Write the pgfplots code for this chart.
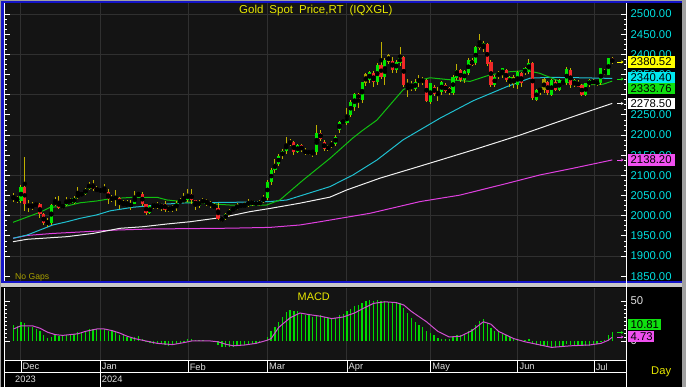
\documentclass[border=0pt]{standalone}
\usepackage{pgfplots}
\pgfplotsset{compat=1.18}
\usepackage{pgfplotstable}
\usepackage{fontspec}
\setmainfont{Liberation Sans}
\usetikzlibrary{arrows.meta}

\definecolor{plotbg}{HTML}{141414}
\definecolor{gridc}{HTML}{303030}
\definecolor{tickcyan}{HTML}{00E0E0}
\definecolor{upg}{HTML}{00E400}
\definecolor{dnr}{HTML}{F02828}
\definecolor{wick}{HTML}{C0B000}
\definecolor{olivebody}{HTML}{A89C00}
\definecolor{mamag}{HTML}{E040E0}
\definecolor{mawhite}{HTML}{F0F0F0}
\definecolor{macyan}{HTML}{20C0D0}
\definecolor{magreen}{HTML}{10C010}
\definecolor{ttl}{HTML}{E8E800}
\definecolor{frameblue}{HTML}{1414C8}
\definecolor{framegray}{HTML}{A0A0A0}
\definecolor{macdg}{HTML}{00DC00}
\definecolor{sig}{HTML}{D050D0}
\definecolor{lbl}{HTML}{E0E0E0}
\definecolor{boxyellow}{HTML}{FFFF00}
\definecolor{boxcyan}{HTML}{00E8F0}
\definecolor{boxgreen}{HTML}{10E010}
\definecolor{boxmag}{HTML}{F050F0}
\definecolor{nogap}{HTML}{A8A000}

\pgfplotstableread{
i o h l c t
-2 2041 2056 2035 2047 1
-1 2047 2049 2031 2036 -1
0 2036 2075 2031 2072 1
1 2072 2146 2012 2029 -1
2 2029 2040 2010 2019 -1
3 2019 2035 2015 2026 1
4 2026 2035 2021 2028 1
5 2028 2032 1995 2004 -1
6 2004 2006 1976 1981 -1
7 1981 1995 1973 1983 0
8 1983 2030 1976 2027 1
9 2027 2047 2025 2036 1
10 2036 2048 2016 2019 -1
11 2019 2030 2017 2027 1
12 2027 2047 2023 2040 1
13 2040 2044 2030 2031 -1
14 2031 2048 2028 2045 1
15 2045 2071 2042 2053 1
16 2053 2056 2051 2053 0
17 2053 2069 2052 2067 1
18 2067 2084 2064 2078 1
19 2078 2088 2062 2065 -1
20 2065 2073 2058 2063 -1
21 2063 2065 2060 2062 0
22 2062 2079 2056 2059 -1
23 2059 2065 2030 2041 -1
24 2041 2051 2034 2043 1
25 2043 2064 2024 2045 1
26 2045 2047 2016 2027 -1
27 2027 2038 2025 2030 1
28 2030 2040 2021 2024 -1
29 2024 2040 2013 2029 1
30 2029 2062 2028 2049 1
31 2049 2060 2048 2055 1
32 2055 2058 2023 2028 -1
33 2028 2030 2002 2006 -1
34 2006 2026 2005 2023 1
35 2023 2032 2016 2029 1
36 2029 2033 2016 2021 -1
37 2021 2032 2011 2029 1
38 2029 2037 2010 2014 -1
39 2014 2023 2010 2021 1
40 2021 2026 2009 2018 -1
41 2018 2036 2011 2032 1
42 2032 2043 2029 2037 1
43 2037 2057 2031 2039 0
44 2039 2065 2034 2054 1
45 2054 2066 2030 2039 -1
46 2039 2040 2015 2025 -1
47 2025 2040 2020 2035 1
48 2035 2043 2030 2035 0
49 2035 2041 2023 2034 -1
50 2034 2037 2020 2024 -1
51 2024 2032 2016 2020 -1
52 2020 2031 1990 1993 -1
53 1993 1996 1984 1992 -1
54 1992 2006 1989 2004 1
55 2004 2016 1999 2013 1
56 2013 2022 2011 2017 1
57 2017 2031 2014 2024 1
58 2024 2030 2020 2025 0
59 2025 2034 2020 2024 0
60 2024 2041 2022 2035 1
61 2035 2038 2025 2031 -1
62 2031 2037 2024 2029 0
63 2029 2038 2024 2034 1
64 2034 2052 2032 2044 1
65 2044 2088 2040 2083 1
66 2083 2119 2077 2114 1
67 2114 2141 2106 2128 1
68 2128 2152 2124 2148 1
69 2148 2165 2141 2160 1
70 2160 2195 2153 2179 1
71 2179 2189 2174 2182 1
72 2182 2186 2150 2158 -1
73 2158 2177 2155 2175 1
74 2175 2178 2157 2162 -1
75 2162 2167 2150 2155 -1
76 2155 2164 2150 2160 1
77 2160 2163 2146 2157 0
78 2157 2225 2150 2205 1
79 2205 2212 2185 2190 -1
80 2183 2187 2160 2165 -1
81 2165 2176 2160 2172 1
82 2172 2185 2168 2179 1
83 2179 2200 2173 2196 1
84 2212 2236 2205 2233 1
85 2233 2235 2231 2234 0
86 2229 2267 2225 2250 1
87 2250 2288 2245 2283 1
88 2270 2305 2260 2301 1
89 2302 2305 2266 2289 -1
90 2287 2332 2280 2331 1
91 2329 2354 2322 2352 0
92 2336 2360 2330 2357 1
93 2353 2358 2320 2332 -1
94 2332 2378 2325 2374 1
95 2374 2431 2340 2345 -1
96 2345 2390 2324 2386 1
97 2382 2402 2375 2398 0
98 2384 2394 2355 2361 -1
99 2361 2386 2355 2382 1
100 2378 2419 2370 2393 1
101 2393 2395 2320 2324 -1
102 2327 2338 2295 2322 0
103 2324 2335 2310 2313 -1
104 2313 2340 2308 2332 1
105 2332 2348 2320 2340 0
106 2338 2345 2325 2330 0
107 2336 2340 2283 2285 -1
108 2283 2330 2277 2328 1
109 2318 2325 2298 2302 -1
110 2302 2318 2285 2307 0
111 2307 2335 2300 2332 1
112 2324 2328 2305 2310 -1
113 2316 2320 2300 2303 -1
114 2305 2350 2300 2345 1
115 2341 2375 2336 2361 1
116 2361 2364 2332 2336 -1
117 2336 2362 2330 2358 1
118 2353 2390 2348 2386 1
119 2386 2390 2370 2374 -1
120 2378 2422 2373 2419 1
121 2417 2450 2410 2427 0
122 2417 2432 2405 2427 1
123 2425 2428 2372 2375 -1
124 2382 2385 2318 2324 -1
125 2324 2348 2320 2345 1
126 2345 2358 2340 2357 1
127 2349 2365 2342 2365 1
128 2361 2363 2332 2336 -1
129 2328 2347 2318 2345 1
130 2345 2350 2316 2327 0
131 2324 2360 2315 2357 1
132 2353 2356 2320 2328 -1
133 2353 2368 2350 2365 1
134 2357 2388 2352 2378 1
135 2378 2380 2287 2291 -1
136 2287 2315 2285 2312 1
137 2307 2320 2300 2320 1
138 2312 2342 2305 2338 0
139 2332 2335 2300 2303 -1
140 2299 2338 2297 2336 1
141 2332 2336 2310 2312 -1
142 2312 2338 2308 2336 1
143 2328 2335 2325 2332 0
144 2328 2368 2325 2363 1
145 2361 2366 2316 2324 -1
146 2324 2338 2318 2336 1
147 2332 2336 2318 2320 -1
148 2324 2327 2296 2299 -1
149 2299 2330 2296 2328 1
150 2324 2338 2320 2336 1
151 2326 2340 2323 2336 1
152 2334 2336 2322 2328 -1
153 2328 2366 2325 2365 1
154 2351 2364 2348 2361 1
155 2349 2392 2348 2390 1
156 2390 2393 2376 2380.52 -1
}\candles

\pgfplotstableread{
i m
-2 20
-1 19
0 24
1 22
2 18
3 17
4 15
5 12
6 7
7 4
8 5
9 7
10 6
11 6
12 8
13 7
14 9
15 11
16 11
17 13
18 15
19 15
20 15
21 15
22 15
23 13
24 12
25 11
26 8
27 7
28 5
29 4
30 5
31 6
32 3
33 -1
34 -3
35 -4
36 -4
37 -4
38 -5
39 -6
40 -5
41 -4
42 -3
43 -1
44 2
45 2
46 1
47 1
48 1
49 0
50 0
51 -1
52 -5
53 -7
54 -8
55 -8
56 -7
57 -6
58 -5
59 -5
60 -4
61 -4
62 -3
63 -2
64 0
65 5
66 12
67 18
68 24
69 30
70 36
71 39
72 38
73 37
74 35
75 33
76 32
77 30
78 32
79 32
80 30
81 29
82 28
83 29
84 32
85 34
86 37
87 40
88 44
89 45
90 48
91 50
92 51
93 50
94 51
95 50
96 50
97 49
98 48
99 47
100 47
101 41
102 35
103 29
104 24
105 20
106 17
107 12
108 10
109 7
110 4
111 3
112 3
113 3
114 5
115 7
116 7
117 9
118 12
119 15
120 20
121 25
122 27
123 22
124 16
125 13
126 11
127 9
128 7
129 5
130 3
131 3
132 1
133 1
134 2
135 -3
136 -5
137 -6
138 -6
139 -7
140 -7
141 -7
142 -6
143 -6
144 -4
145 -5
146 -5
147 -5
148 -6
149 -6
150 -6
151 -5
152 -4
153 -1
154 1
155 7
156 10.81
}\macd

\newcommand{\valbox}[5]{%
  \fill[#2] (628,#1-5.6) rectangle (#5,#1+5.6);
  \node[anchor=west, inner sep=0pt, text=#3, font=\fontsize{11.3}{12}\selectfont] at (630.5,#1) {#4};}

\begin{document}
\begin{tikzpicture}[x=1pt,y=1pt]
\fill[black] (0,0) rectangle (686,387);
% frame
\fill[framegray] (0,385.8) rectangle (686,387);
\fill[framegray] (0,0) rectangle (1.2,387);
\fill[framegray] (682,0) rectangle (686,387);
\fill[frameblue] (1.2,384) rectangle (682,385.8);
\fill[frameblue] (1.2,104) rectangle (3.8,385.8);
\fill[frameblue] (1.2,104) rectangle (682,105.5);
\fill[black!22!white] (1.2,100) rectangle (682,103.5);

% ---------- main price panel ----------
\begin{axis}[
  at={(5pt,105.5pt)}, anchor=south west, scale only axis,
  width=621pt, height=278.5pt,
  xmin=-4.22, xmax=159.63, ymin=1836.85, ymax=2527.4,
  axis background/.style={fill=plotbg},
  axis line style={draw=none},
  xtick={0,20.9,44.1,65,86,108.1,131.1,151.2}, xticklabels={},
  xmajorticks=false, xmajorgrids=true,
  ytick={1900,2000,...,2500}, ymajorgrids=true,
  yticklabels={1900.00,2000.00,2100.00,2200.00,,2400.00,2500.00},
  extra y ticks={1850,1950,2050,2150,2250,2350,2450},
  extra y tick labels={1850.00,1950.00,2050.00,2150.00,2250.00,2350.00,2450.00},
  extra y tick style={ymajorgrids=false},
  minor y tick num=7,
  tick align=inside, ytick pos=both, yticklabel pos=right,
  major tick length=5pt, minor tick length=2.5pt,
  major y tick style={white, line width=0.8pt},
  minor y tick style={white, line width=0.8pt},
  major grid style={gridc, line width=1pt},
  yticklabel style={font=\fontsize{11.3}{12}\selectfont, text=tickcyan, anchor=west, inner sep=0pt, xshift=4.5pt},
]
% moving averages
\addplot[mamag, line width=1pt, mark=none] coordinates {(-2.1,1944)(1.6,1951)(8.4,1956)(16.4,1960)(25.3,1964.5)(34,1967)(55.1,1969)(65.7,1971)(73.6,1977)(78.9,1985)(92.1,2006)(105.3,2035)(115.8,2051)(128.2,2080)(136.9,2101)(145.6,2117.5)(156,2138.2)};
\addplot[mawhite, line width=1pt, mark=none] coordinates {(-2.1,1935.5)(1.6,1941.5)(12.1,1948)(19,1956)(26.1,1968.7)(32.2,1972.7)(38.5,1979.4)(44.6,1985)(53.3,1996)(60.4,2010)(65.7,2018)(73.6,2031)(81.5,2046)(86,2064)(94.7,2093)(103.4,2117.5)(110.6,2138)(119.3,2163)(131.7,2200)(143,2237)(145.6,2245.5)(156,2278.5)};
\addplot[macyan, line width=1pt, mark=none] coordinates {(-2.1,1944)(1.6,1952)(5,1964.5)(8.4,1977)(12.1,1985)(15.6,1993.5)(20,2002)(23.5,2012)(29.6,2021)(33.2,2024)(38.5,2029)(43.8,2032)(55.1,2033)(65.7,2035)(70.2,2039)(81.5,2072)(87.6,2101)(93.9,2138)(100.8,2188)(110.6,2242)(119.3,2285)(128.2,2320)(134.3,2341)(139.6,2343)(147.5,2342)(156,2340.4)};
\addplot[magreen, line width=1pt, mark=none] coordinates {(-2.1,1983.6)(5,2008.4)(7.7,2020.8)(12.1,2024)(15.6,2032)(20,2036.5)(23.5,2042)(29.6,2045.6)(35.9,2045.6)(38.5,2039)(43.8,2034)(50.7,2029)(55.1,2026.5)(64.8,2026.5)(68.3,2039)(74.4,2088)(81.5,2142)(87.6,2193)(90.2,2212)(93.9,2237)(100.8,2312)(105.3,2336)(107.9,2342)(113.2,2337)(118.5,2333)(123.7,2349)(129,2357)(133.5,2360)(136.9,2353)(141.4,2336)(147.5,2324)(153.6,2326)(156,2333.76)};
% wicks
\addplot[only marks, mark=none, forget plot,
  error bars/.cd, y dir=both, y explicit, error mark=none,
  error bar style={wick, line width=1pt}]
  table[x=i, y expr={(\thisrow{h}+\thisrow{l})/2}, y error expr={(\thisrow{h}-\thisrow{l})/2}] {\candles};
% bodies
\addplot[only marks, mark=none, forget plot, restrict expr to domain={\thisrow{t}}{0.5:1.5},
  error bars/.cd, y dir=both, y explicit, error mark=none,
  error bar style={upg, line width=3.2pt}]
  table[x=i, y expr={(\thisrow{o}+\thisrow{c})/2}, y error expr={abs(\thisrow{c}-\thisrow{o})/2}] {\candles};
\addplot[only marks, mark=none, forget plot, restrict expr to domain={\thisrow{t}}{-1.5:-0.5},
  error bars/.cd, y dir=both, y explicit, error mark=none,
  error bar style={dnr, line width=3.2pt}]
  table[x=i, y expr={(\thisrow{o}+\thisrow{c})/2}, y error expr={abs(\thisrow{c}-\thisrow{o})/2}] {\candles};
\addplot[only marks, mark=none, forget plot, restrict expr to domain={\thisrow{t}}{-0.5:0.5},
  error bars/.cd, y dir=both, y explicit, error mark=none,
  error bar style={olivebody, line width=3.2pt}]
  table[x=i, y expr={(\thisrow{o}+\thisrow{c})/2}, y error expr={abs(\thisrow{c}-\thisrow{o})/2}] {\candles};
\end{axis}

% ---------- MACD panel ----------
\begin{axis}[
  at={(5pt,26pt)}, anchor=south west, scale only axis,
  width=621pt, height=73pt,
  xmin=-4.22, xmax=159.63, ymin=-25, ymax=66.25,
  axis background/.style={fill=plotbg},
  axis line style={draw=none},
  xtick={0,20.9,44.1,65,86,108.1,131.1,151.2}, xticklabels={},
  xmajorticks=false, xmajorgrids=true,
  ytick={0,50}, minor y tick num=9,
  tick align=inside, ytick pos=both, yticklabel pos=right,
  major tick length=5pt, minor tick length=2.5pt,
  major y tick style={white, line width=0.8pt},
  minor y tick style={white, line width=0.8pt},
  major grid style={gridc, line width=1pt},
  /pgf/number format/assume math mode=true,
  yticklabel style={font=\fontsize{11.3}{12}\selectfont, text=lbl, anchor=west, inner sep=0pt, xshift=4.5pt},
]
\addplot[ycomb, macdg, line width=1.3pt, mark=none] table[x=i, y=m] {\macd};
\addplot[sig, line width=1pt, mark=none] coordinates {(-2,15)(0,19)(3,19)(5,16)(7,11)(9,8)(11,7)(13,8)(15,9)(17,12)(20,15)(22,15)(24,13)(26,10)(28,6)(30,3)(33,0)(36,-3)(40,-4.5)(43,-2)(45,0)(50,0)(52,-1)(54,-4)(56,-6)(59,-5)(62,-3)(65,1)(66,3)(68,17)(71,29)(73.6,35)(76,33)(79,31)(82,28)(85,30)(88,35)(90,40)(93,47)(96,49)(99,48)(101,45)(103,37)(107,24)(110,12)(113,5)(116,6)(119,13)(122,24)(124,21)(126,12)(130,3)(133,-1)(137,-5)(140,-8)(145,-6)(150,-5)(153,-3)(155,1)(156,4.73)};
\end{axis}

% axis lines
\draw[white, line width=1.2pt] (626.6,0) -- (626.6,384);
\draw[white, line width=1pt] (4.8,0) -- (4.8,99);
\draw[white, line width=1pt] (4.8,105.5) -- (4.8,384);
% date axis
\draw[white, line width=1pt] (4.8,26) -- (626.6,26);
\draw[white, line width=1pt] (4.8,14.7) -- (626.6,14.7);
\foreach \px in {21,188.1,267.4,347,430.7,517.9,594.1} {\draw[white, line width=1pt] (\px,14.7) -- (\px,26);}
\draw[white, line width=1pt] (100.2,0) -- (100.2,26);
\begin{scope}[every node/.style={anchor=west, inner sep=0pt, text=lbl, font=\fontsize{9.3}{10}\selectfont}]
\node at (22.5,20.2) {Dec};
\node at (101.7,20.2) {Jan};
\node at (189.6,20.2) {Feb};
\node at (268.9,20.2) {Mar};
\node at (348.5,20.2) {Apr};
\node at (432.2,20.2) {May};
\node at (519.4,20.2) {Jun};
\node at (595.6,20.2) {Jul};
\node at (15,7.5) {2023};
\node at (101.7,7.5) {2024};
\end{scope}

% titles
\node[anchor=west, inner sep=0pt, text=ttl, font=\fontsize{11.5}{12}\selectfont] at (239,376.5) {Gold\hspace{6pt}Spot\hspace{6pt}Price,RT\hspace{6pt}(IQXGL)};
\node[anchor=west, inner sep=0pt, text=nogap, font=\fontsize{8.6}{9}\selectfont] at (15,110) {No Gaps};
\node[anchor=west, inner sep=0pt, text=ttl, font=\fontsize{10.9}{11}\selectfont] at (297.5,90.5) {MACD};
\node[anchor=west, inner sep=0pt, text=ttl, font=\fontsize{11.2}{12}\selectfont] at (651,15) {Day};

% value boxes main
\valbox{325}{boxyellow}{black}{2380.52}{675}
\valbox{309.8}{boxcyan}{black}{2340.40}{675}
\valbox{298.5}{boxgreen}{black}{2333.76}{675}
\valbox{283.5}{white}{black}{2278.50}{675}
\valbox{227}{boxmag}{black}{2138.20}{675}
\draw[boxyellow, line width=0.8pt, -{Stealth[length=2.5pt,width=3pt]}] (617,325) -- (623.5,325);
\draw[boxgreen, line width=0.8pt, -{Stealth[length=2.5pt,width=3pt]}] (617,308) -- (623.5,308);
\draw[white, line width=0.8pt, -{Stealth[length=2.5pt,width=3pt]}] (617,283.5) -- (623.5,283.5);
\draw[boxmag, line width=0.8pt, -{Stealth[length=2.5pt,width=3pt]}] (617,227) -- (623.5,227);
% value boxes MACD
\valbox{62.5}{boxgreen}{black}{10.81}{661}
\valbox{50.5}{boxmag}{black}{4.73}{654}
\draw[boxgreen, line width=0.8pt, -{Stealth[length=2.5pt,width=3pt]}] (617,54.5) -- (623.5,54.5);
\draw[boxmag, line width=0.8pt, -{Stealth[length=2.5pt,width=3pt]}] (617,50) -- (623.5,50);
\end{tikzpicture}
\end{document}
